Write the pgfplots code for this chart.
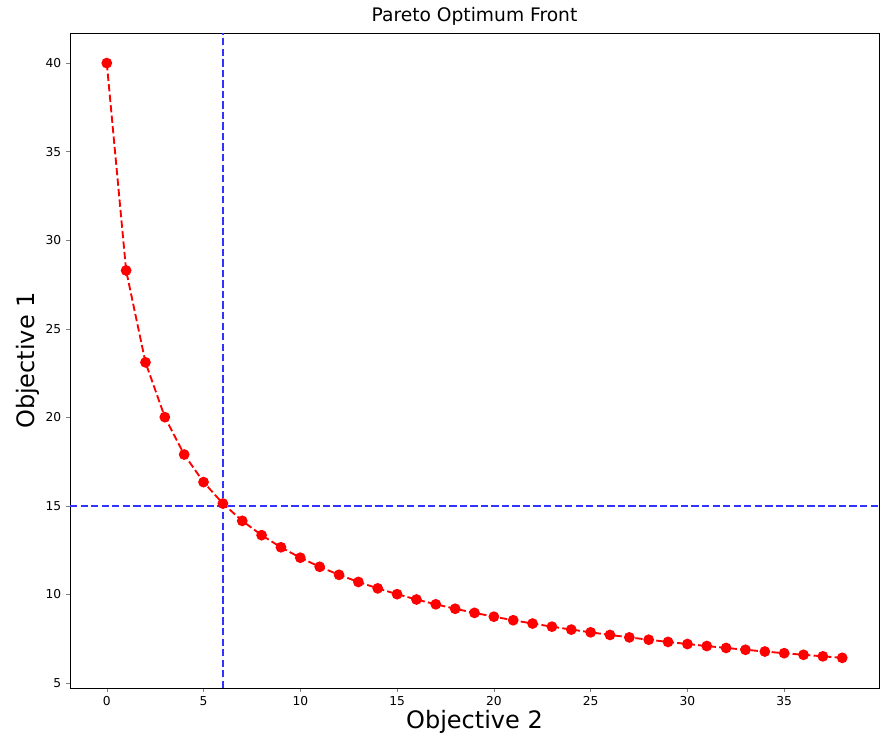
\documentclass[border=0pt]{standalone}
\usepackage{pgfplots}
\pgfplotsset{compat=1.18}
\usepackage{fontspec}
\setmainfont{DejaVu Sans}
\definecolor{mblue}{rgb}{0.2,0.2,1}
\begin{document}
\begin{tikzpicture}
\begin{axis}[
  at={(0pt,0pt)}, anchor=south west,
  scale only axis, width=606.75pt, height=491.25pt,
  xmin=-1.9, xmax=39.9, ymin=4.7, ymax=41.7,
  xtick={0,5,...,35}, ytick={5,10,...,40},
  /pgf/number format/assume math mode=true,
  tick label style={font=\fontsize{9.2}{11}\selectfont},
  tick align=outside, tick pos=left,
  major tick length=3pt,
  title={\fontsize{14}{16}\selectfont Pareto Optimum Front},
  title style={yshift=-4pt},
  xlabel={\fontsize{18}{20}\selectfont Objective 2},
  ylabel={\fontsize{18}{20}\selectfont Objective 1},
  xlabel style={yshift=4pt},
  ylabel style={yshift=-2pt},
  axis line style={line width=0.6pt},
]
\addplot[red, line width=1.4pt, dash pattern=on 5.5pt off 2.4pt, mark=*, mark size=3.3pt, mark options={solid, fill=red, draw=red}] coordinates {
(0,40.000) (1,28.284) (2,23.094) (3,20.000) (4,17.889) (5,16.330) (6,15.119) (7,14.142) (8,13.333) (9,12.649)
(10,12.060) (11,11.547) (12,11.094) (13,10.690) (14,10.328) (15,10.000) (16,9.701) (17,9.428) (18,9.177) (19,8.944)
(20,8.729) (21,8.528) (22,8.341) (23,8.165) (24,8.000) (25,7.845) (26,7.698) (27,7.559) (28,7.428) (29,7.303)
(30,7.184) (31,7.071) (32,6.963) (33,6.860) (34,6.761) (35,6.667) (36,6.576) (37,6.489) (38,6.405)
};
\addplot[draw=mblue, no marks, line width=1.6pt, dash pattern=on 5.5pt off 2.4pt] coordinates {(-1.9,15) (39.9,15)};
\addplot[draw=mblue, no marks, line width=1.6pt, dash pattern=on 5.5pt off 2.4pt] coordinates {(6,4.7) (6,41.7)};
\end{axis}
\pgfresetboundingbox
\path (-52.5pt,-39pt) rectangle (607.5pt,516pt);
\end{tikzpicture}
\end{document}
